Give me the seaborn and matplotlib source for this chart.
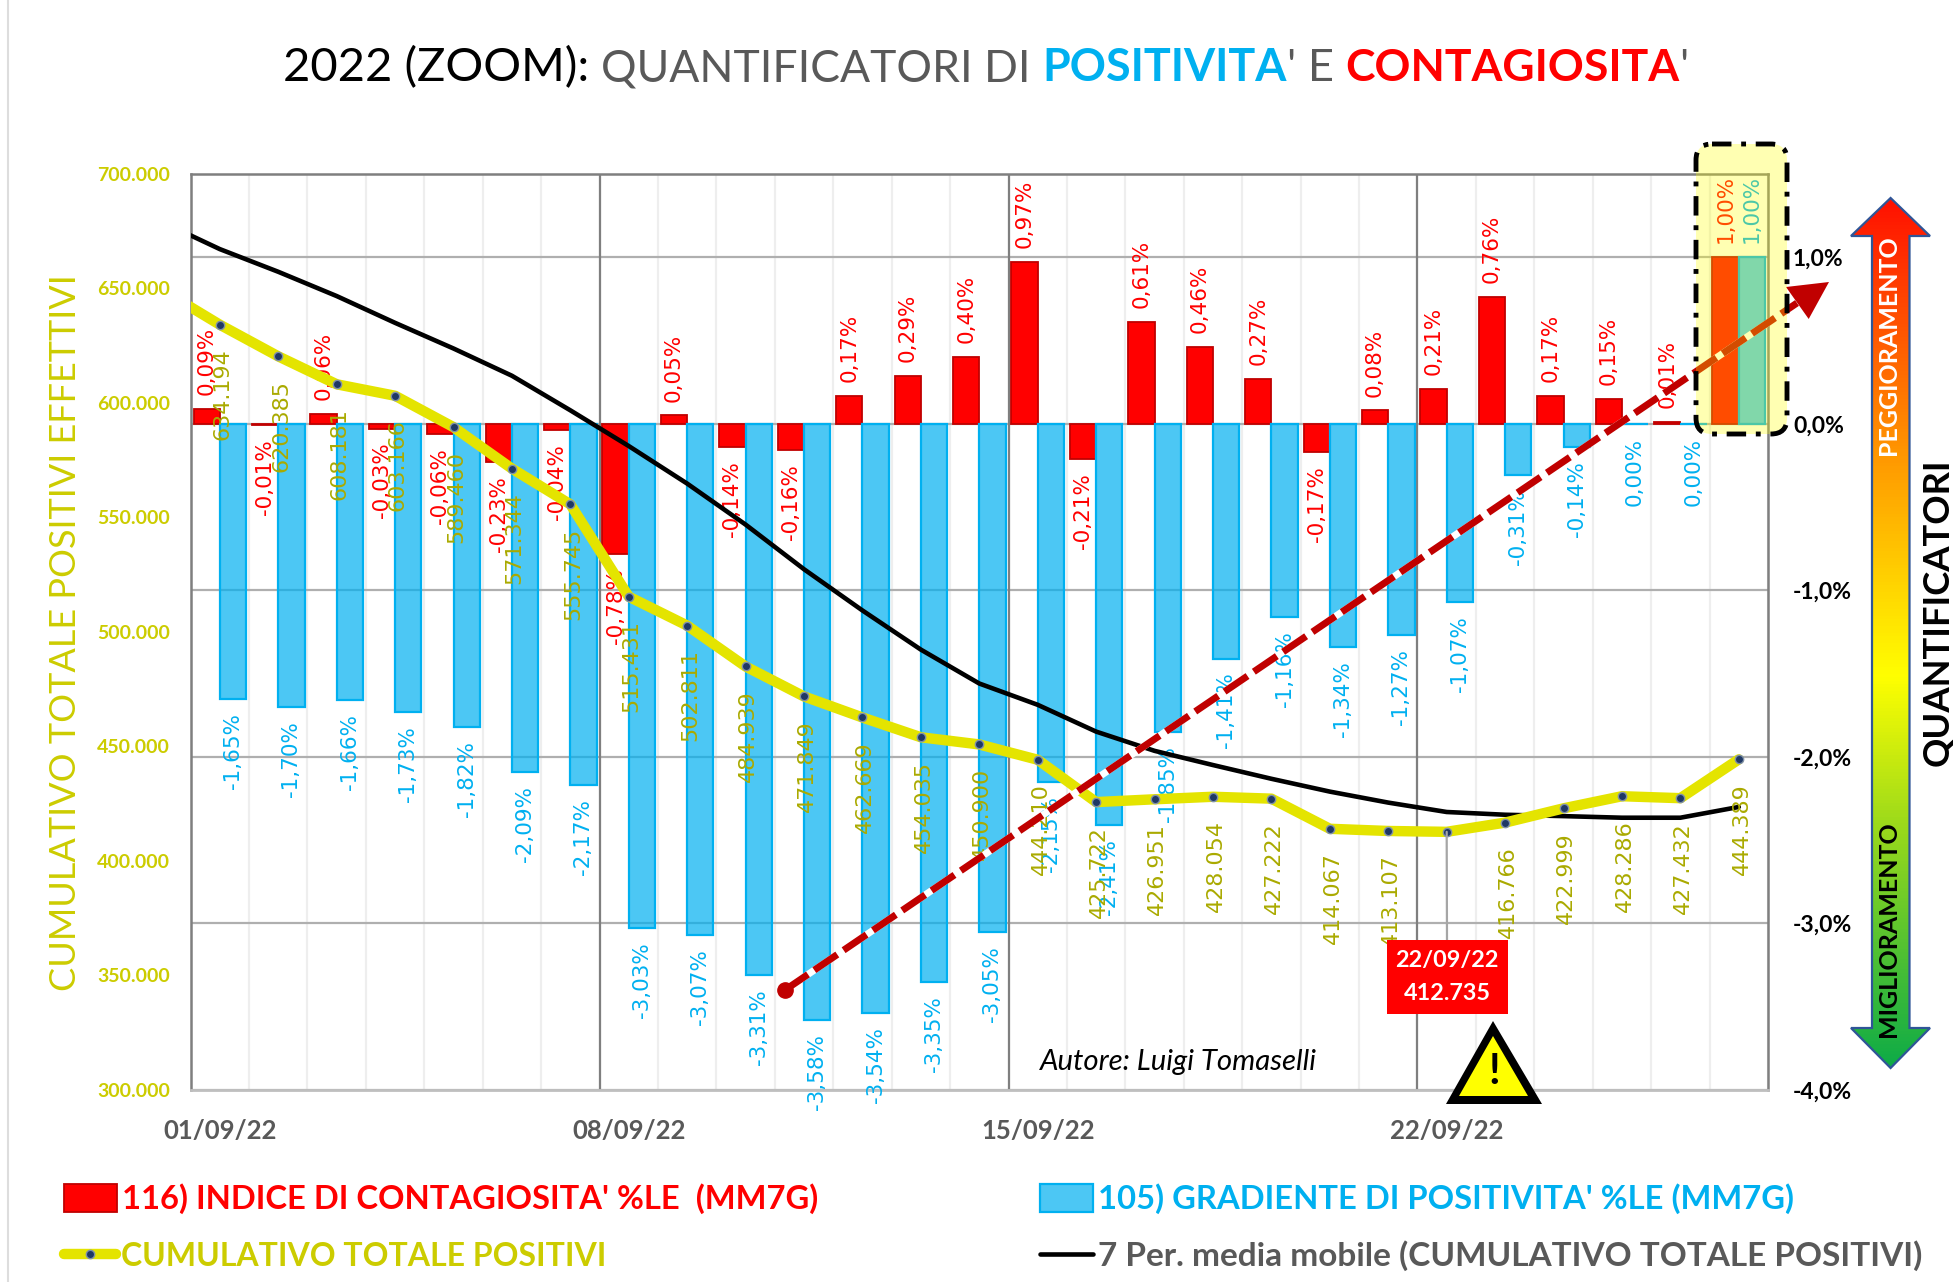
import numpy as np
import pandas as pd
import seaborn as sns
import matplotlib.pyplot as plt
from matplotlib.colors import LinearSegmentedColormap
from matplotlib.lines import Line2D
from matplotlib.patches import Patch, Polygon, Rectangle, FancyBboxPatch

giorni = ["%02d/09/22" % d for d in range(1, 28)]
tick_giorni = ["01/09/22", "08/09/22", "15/09/22", "22/09/22"]

contagiosita = [0.09, -0.01, 0.06, -0.03, -0.06, -0.23, -0.04, -0.78, 0.05, -0.14, -0.16, 0.17, 0.29, 0.40,
                0.97, -0.21, 0.61, 0.46, 0.27, -0.17, 0.08, 0.21, 0.76, 0.17, 0.15, 0.01, 1.00]
positivita = [-1.65, -1.70, -1.66, -1.73, -1.82, -2.09, -2.17, -3.03, -3.07, -3.31, -3.58, -3.54, -3.35, -3.05,
              -2.15, -2.41, -1.85, -1.41, -1.16, -1.34, -1.27, -1.07, -0.31, -0.14, -0.001, -0.001, 1.00]
# il primo valore e' il 31/08, fuori dal grafico: serve solo per l'inizio delle linee
cumulativo = [649600, 634194, 620385, 608181, 603166, 589460, 571344, 555745, 515431, 502811, 484939, 471849,
              462669, 454035, 450900, 444210, 425722, 426951, 428054, 427222, 414067, 413107, 412735, 416766,
              422999, 428286, 427432, 444389]
media_mobile = [679200, 667200, 657300, 646700, 635000, 623800, 611900, 596800, 581200, 564800, 546900, 527400,
                509400, 492300, 477500, 468200, 456500, 448100, 441900, 435900, 430300, 425500, 421400, 420200,
                419600, 418900, 418900, 423600]

W, H = 1953, 1282
GIALLO = "#CCCC00"
GRIGIO = "#595959"
BLU = "#00B0F0"
ROSSO = "#FF0000"

sns.set_style("white")
plt.rcParams['font.family'] = ['Lato', 'DejaVu Sans']

fig = plt.figure(figsize=(W / 100, H / 100), dpi=100)
ax = fig.add_axes([190.6 / W, 1 - 1090 / H, (1768 - 190.6) / W, 916 / H])

df = pd.DataFrame({
    'giorno': giorni * 2,
    'valore': contagiosita + positivita,
    'serie': ['contagiosita'] * 27 + ['positivita'] * 27,
})
sns.barplot(data=df, x='giorno', y='valore', hue='serie', palette=[ROSSO, BLU], width=0.9, gap=0,
            saturation=1, legend=False, ax=ax, zorder=2)
for p in ax.containers[0]:
    p.set_facecolor(ROSSO)
    p.set_edgecolor("#C00000")
    p.set_linewidth(1.3)
for p in ax.containers[1]:
    p.set_facecolor((0, 0.69, 0.94, 0.7))
    p.set_edgecolor(BLU)
    p.set_linewidth(1.6)

ax.set_xlim(-0.5, 26.5)
ax.set_ylim(-4, 1.5)
ax.set_xlabel("")
ax.set_ylabel("")
ax.set_yticks([-4, -3, -2, -1, 0, 1])
ax.set_yticklabels(["-4,0%", "-3,0%", "-2,0%", "-1,0%", "0,0%", "1,0%"], fontsize=16.5, fontweight='bold', color='black')
ax.set_xticks([0, 7, 14, 21])
ax.set_xticklabels(tick_giorni, fontsize=18.5, fontweight='bold', color=GRIGIO)
ax.set_xticks(np.arange(-0.5, 27), minor=True)
ax.tick_params(axis='x', which='major', length=0, pad=21)
ax.tick_params(axis='x', which='minor', length=6, width=1.5, color="#BFBFBF")
ax.set_axisbelow(True)
ax.grid(False)
ax.grid(True, axis='y', which='major', color="#AFAFAF", lw=1.6)
ax.grid(True, axis='x', which='minor', color="#EEEEEE", lw=1.6)
for d in [6.5, 13.5, 20.5]:
    ax.axvline(d, color="#7F7F7F", lw=1.6, zorder=1.5)
for s in ['left', 'top', 'right']:
    ax.spines[s].set_color("#7F7F7F")
    ax.spines[s].set_linewidth(1.8)
ax.spines['bottom'].set_color("#BFBFBF")
ax.spines['bottom'].set_linewidth(2)

# asse sinistro con le linee
axl = ax.twinx()
axl.set_zorder(ax.get_zorder() + 1)
axl.patch.set_visible(False)
x_linee = np.arange(-1, 27)
sns.lineplot(x=x_linee, y=media_mobile, color='black', lw=3.3, ax=axl, zorder=3)
sns.lineplot(x=x_linee, y=cumulativo, color="#E4E400", lw=7.5, ax=axl, zorder=4, marker='o', markersize=6,
             markerfacecolor="#1F3864", markeredgecolor="#8090A8", markeredgewidth=1)
axl.set_xlim(-0.5, 26.5)
axl.set_ylim(300000, 700000)
axl.yaxis.tick_left()
ax.yaxis.tick_right()
ax.tick_params(axis='y', length=0, pad=18)
yt = list(range(300000, 700001, 50000))
axl.set_yticks(yt)
axl.set_yticklabels([f"{v:,}".replace(",", ".") for v in yt], fontsize=14, fontweight='bold', color=GIALLO)
axl.tick_params(axis='y', length=0, pad=15)
axl.set_ylabel("")
axl.grid(False)
for s in axl.spines.values():
    s.set_visible(False)


def pct(v):
    return f"{round(v, 2) + 0.0:.2f}".replace(".", ",") + "%"


ax.bar_label(ax.containers[0], labels=[pct(v) for v in contagiosita], rotation=90, padding=10, color=ROSSO,
             fontsize=15.5, family='DejaVu Sans', zorder=6)
ax.bar_label(ax.containers[1], labels=[pct(v) for v in positivita], rotation=90, padding=10, color=BLU,
             fontsize=15.5, family='DejaVu Sans', zorder=6)
for i, v in zip(range(1, 28), cumulativo[1:]):
    if i == 22:
        continue
    axl.annotate(f"{v:,}".replace(",", "."), xy=(i - 1, v), xytext=(2, -17), textcoords='offset points',
                 rotation=90, ha='center', va='top', color="#AAAA00", fontsize=16, family='DejaVu Sans', zorder=6)

# disegni sopra il grafico, in pixel dell'immagine
ov = fig.add_axes([0, 0, 1, 1], zorder=5)
ov.patch.set_visible(False)
ov.axis('off')

cm = LinearSegmentedColormap.from_list('q', [(0, "#FF1000"), (0.29, "#FF9500"), (0.55, "#FFFF00"),
                                             (0.715, "#9FDB1A"), (1, "#0DAB47")])
contorno = [(1890.6, 198), (1930, 236), (1909.5, 236), (1909.5, 1028), (1930, 1028), (1890.6, 1068),
            (1851, 1028), (1872, 1028), (1872, 236), (1851, 236)]
im = ov.imshow(np.linspace(0, 1, 256).reshape(-1, 1), cmap=cm, extent=(1851, 1930, 1068, 198), aspect='auto')
freccia = Polygon(contorno, closed=True, fc='none', ec="#2F5597", lw=1.6)
ov.add_patch(freccia)
im.set_clip_path(freccia)
ov.set_xlim(0, W)
ov.set_ylim(H, 0)

ov.text(1888, 345, "PEGGIORAMENTO", rotation=90, color='white', fontsize=18, fontweight='bold', ha='center', va='center')
ov.text(1888, 929, "MIGLIORAMENTO", rotation=90, color='black', fontsize=18, fontweight='bold', ha='center', va='center')
ov.text(1938, 612, "QUANTIFICATORI", rotation=90, color='black', fontsize=26.2, fontweight='bold', ha='center', va='center')
ov.text(66, 633, "CUMULATIVO TOTALE POSITIVI EFFETTIVI", rotation=90, color=GIALLO, fontsize=26, ha='center', va='center')
ov.text(1040, 1062, "Autore: Luigi Tomaselli", style='italic', color='black', fontsize=21.2, ha='left', va='center')
ov.plot([8, 8], [0, H], color="#DDDDDD", lw=1.5)

# retta di tendenza
ov.plot([785, 1797], [990, 303], color='white', lw=5, solid_capstyle='butt', zorder=3)
ov.plot([785, 1797], [990, 303], color="#C00000", lw=5, ls=(0, (4, 1.1)), dash_capstyle='butt', zorder=3.1)
ov.plot([785], [990], 'o', color="#C00000", ms=11, zorder=3.1)
ov.add_patch(Polygon([(1829, 282), (1786, 287), (1808.7, 319)], closed=True, fc="#C00000", ec='none', zorder=3.1))

# riquadro giallo
ov.add_patch(FancyBboxPatch((1696, 144), 91, 290, boxstyle="round,pad=0,rounding_size=16", fc=(1, 1, 0, 0.3),
                            ec='black', lw=3.5, ls=(0, (4, 2, 1, 2)), zorder=4))

# etichetta del minimo
ov.annotate("", xy=(21, cumulativo[22]), xycoords=axl.transData, xytext=(1447, 942), textcoords='data',
            arrowprops=dict(arrowstyle='-', color="#A6A6A6", lw=1.6, shrinkA=0, shrinkB=0))
ov.add_patch(Rectangle((1387, 940), 120.6, 73.7, fc=ROSSO, ec='none', zorder=4))
ov.text(1447, 961, giorni[21], color='white', fontsize=16.8, fontweight='bold', ha='center', va='center', zorder=5)
ov.text(1447, 994, f"{cumulativo[22]:,}".replace(",", "."), color='white', fontsize=16.8, fontweight='bold',
        ha='center', va='center', zorder=5)

# triangolo di attenzione
ov.add_patch(Polygon([(1493, 1021), (1542, 1104), (1446, 1104)], closed=True, fc='black', ec='none', zorder=4))
ov.add_patch(Polygon([(1493, 1036), (1528, 1096), (1459, 1096)], closed=True, fc='#FFFF00', ec='none', zorder=4))
ov.text(1494, 1072, "!", color='black', fontsize=30, fontweight='bold', ha='center', va='center', zorder=5)

# titolo a pezzi
pezzi = [("2022 (ZOOM): ", 'black', 'normal', 33.9), ("QUANTIFICATORI DI ", GRIGIO, 'normal', 32),
         ("POSITIVITA", BLU, 'bold', 32.3), ("' E ", GRIGIO, 'normal', 32.6),
         ("CONTAGIOSITA", ROSSO, 'bold', 32), ("'", GRIGIO, 'normal', 32.6)]
r = fig.canvas.get_renderer()
xt = 283
for testo, col, peso, dim in pezzi:
    t = ov.text(xt, 81, testo + ".", color=col, fontweight=peso, fontsize=dim, ha='left', va='baseline')
    largo = t.get_window_extent(r).width
    p = ov.text(xt, 81, ".", fontsize=dim, fontweight=peso, alpha=0)
    largo -= p.get_window_extent(r).width
    p.remove()
    t.set_text(testo)
    xt += largo

# legende
voci = [
    (Patch(fc=ROSSO, ec="#C00000", lw=1.3), "116) INDICE DI CONTAGIOSITA' %LE  (MM7G)", ROSSO, 54, 1199, 23.6),
    (Patch(fc=(0, 0.69, 0.94, 0.7), ec=BLU, lw=1.6), "105) GRADIENTE DI POSITIVITA' %LE (MM7G)", BLU, 1030, 1199, 23.6),
    (Line2D([], [], color="#E4E400", lw=7.5, marker='o', ms=6, mfc="#1F3864", mec="#8090A8", solid_capstyle='round'),
     "CUMULATIVO TOTALE POSITIVI", GIALLO, 54, 1256, 23),
    (Line2D([], [], color='black', lw=3.3), "7 Per. media mobile (CUMULATIVO TOTALE POSITIVI)", GRIGIO, 1030, 1256, 24),
]
for h, testo, col, lx, ly, dim in voci:
    fig.legend(handles=[h], labels=[testo], loc='center left', bbox_to_anchor=(lx / W, 1 - ly / H), frameon=False,
               prop={'family': ['Lato', 'DejaVu Sans'], 'weight': 'bold', 'size': dim}, labelcolor=col,
               handlelength=38 / dim, handleheight=0.9, handletextpad=0.15, numpoints=1, borderpad=0, borderaxespad=0.3)

fig.savefig("out.png", dpi=100)
